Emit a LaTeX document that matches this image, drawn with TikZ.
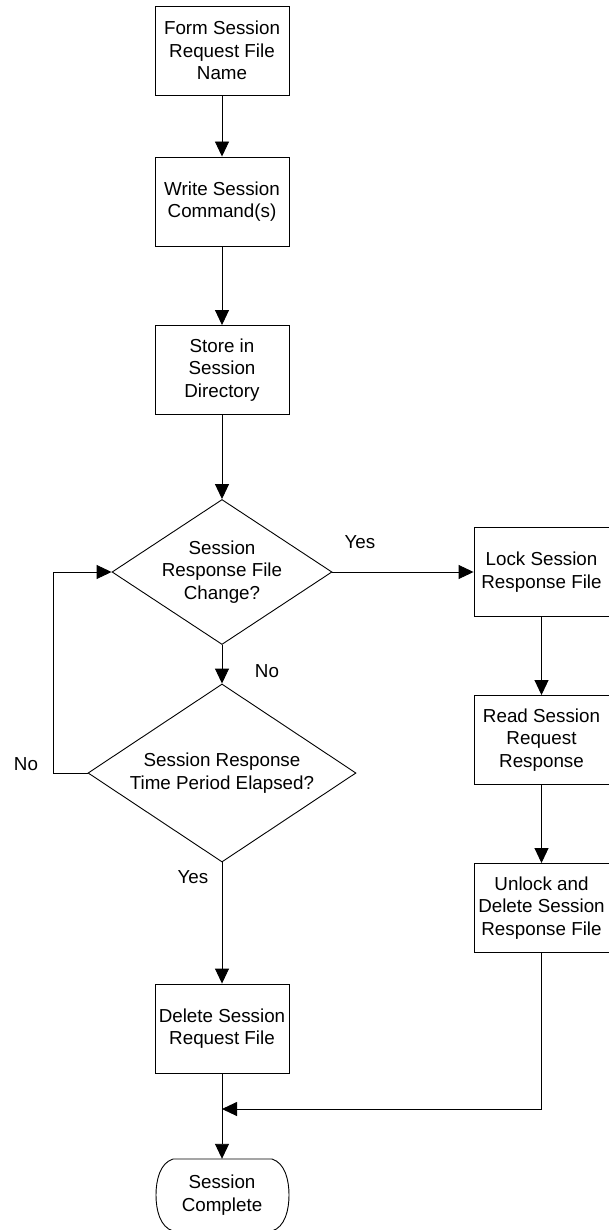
\documentclass[tikz,border=0pt]{standalone}
\usepackage{fontspec}
\setmainfont{Liberation Sans}
\usetikzlibrary{shapes.geometric,arrows.meta}
\begin{document}
\begin{tikzpicture}[x=1pt,y=-1pt,
  every node/.style={font=\fontsize{18.8}{22.3}\selectfont},
  box/.style={draw, line width=0.9pt, minimum width=134pt, minimum height=89pt, inner sep=0pt, align=center},
  rbox/.style={box, minimum width=138pt},
  dia/.style={draw, diamond, line width=0.9pt, inner sep=0pt},
  txt/.style={align=center, inner sep=0pt},
  lbl/.style={inner sep=0pt},
  arr/.style={line width=0.9pt, -{Triangle[length=15pt,width=14pt]}},
  ln/.style={line width=0.9pt}]
\useasboundingbox (0,0) rectangle (608,1230);
% main column
\node[box] (b1) at (222,50.5) {Form Session\\Request File\\Name};
\node[box] (b2) at (222,201.5) {Write Session\\Command(s)};
\node[box] (b3) at (222,370) {Store in\\Session\\Directory};
\node[dia, minimum width=220pt, minimum height=145pt] (d1) at (222,572) {};
\node[txt] (d1t) at (d1) {Session\\Response File\\Change?};
\node[dia, minimum width=268pt, minimum height=178pt] (d2) at (222,773) {};
\node[txt] (d2t) at (d2) {Session Response\\Time Period Elapsed?};
\node[box] (del) at (222,1028.5) {Delete Session\\Request File};
\node[minimum width=134pt, minimum height=72pt, inner sep=0pt, align=center] (term) at (222,1195) {Session\\Complete};
\draw[ln] (173,1159) -- (272,1159)
  .. controls (285,1163) and (289,1180) .. (289,1195)
  .. controls (289,1210) and (285,1227) .. (272,1231)
  -- (173,1231)
  .. controls (160,1227) and (156,1210) .. (156,1195)
  .. controls (156,1180) and (160,1163) .. (173,1159) -- cycle;
% right column (right border falls just outside the page, as in the reference)
\node[rbox] (lock) at (543,572) {\hspace*{-3pt}Lock Session\\\hspace*{-3pt}Response File};
\node[rbox] (read) at (543,740) {\hspace*{-3pt}Read Session\\\hspace*{-3pt}Request\\\hspace*{-3pt}Response};
\node[rbox] (unl) at (543,908) {\hspace*{-3pt}Unlock and\\\hspace*{-3pt}Delete Session\\\hspace*{-3pt}Response File};
\coordinate (m) at (222,1109);
% connectors
\draw[arr] (b1.south) -- (b2.north);
\draw[arr] (b2.south) -- (b3.north);
\draw[arr] (b3.south) -- (d1.north);
\draw[arr] (d1.east) -- (lock.west);
\draw[arr] (d1.south) -- (d2.north);
\draw[arr] (d2.west) -- ++(-34.4,0) |- (d1.west);
\draw[arr] (d2.south) -- (del.north);
\draw[arr] ([xshift=-1.5pt]lock.south) -- ([xshift=-1.5pt]read.north);
\draw[arr] ([xshift=-1.5pt]read.south) -- ([xshift=-1.5pt]unl.north);
\draw[ln] (del.south) -- (m);
\draw[arr] (m) -- (term.north);
\draw[arr] ([xshift=-1.5pt]unl.south) |- (m);
% labels
\node[lbl] (l1) at (360,542) {Yes};
\node[lbl] (l2) at (267,671) {No};
\node[lbl] (l3) at (26,764) {No};
\node[lbl] (l4) at (193,877) {Yes};
\end{tikzpicture}
\end{document}
